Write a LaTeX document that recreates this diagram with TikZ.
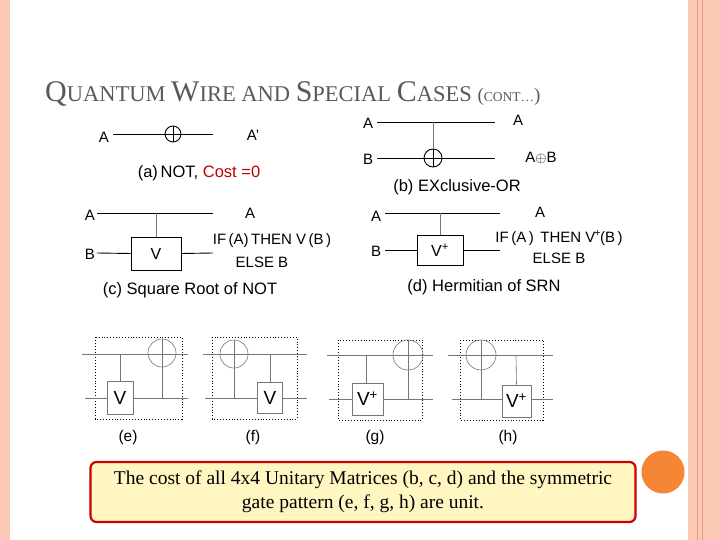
\documentclass[tikz,border=0pt]{standalone}
\usepackage{fontspec}
\setmainfont{Liberation Serif}
\newfontfamily\lsans{Liberation Sans}
\definecolor{peach}{HTML}{FAC8B4}
\definecolor{peachd}{HTML}{E89A7C}
\definecolor{gline}{HTML}{777777}
\definecolor{boxfill}{HTML}{FFF6C2}
\definecolor{orng}{HTML}{F58634}
\begin{document}
\begin{tikzpicture}[x=1pt,y=-1pt,
  lbl/.style={font=\lsans\fontsize{15}{17}\selectfont,inner sep=0pt},
  captxt/.style={font=\lsans\fontsize{16.5}{18}\selectfont,inner sep=0pt},
  scap/.style={font=\lsans\fontsize{15.5}{16}\selectfont,inner sep=0pt},
  wire/.style={line width=0.9pt},
  ctl/.style={draw=gline,line width=0.6pt},
  gbox/.style={draw,line width=0.9pt,fill=white,font=\lsans\fontsize{16}{17}\selectfont,inner sep=0pt},
  thinw/.style={draw=gline,line width=0.8pt},
  dotbox/.style={dotted,line width=0.9pt},
  sbox/.style={draw=gline,line width=0.8pt,fill=white,font=\lsans\fontsize{19}{20}\selectfont,inner sep=0pt}]
\useasboundingbox (0,0) rectangle (720,540);
\fill[white] (0,0) rectangle (720,540);
% decorations
\fill[peach] (0,0) rectangle (10,540);
\fill[peach] (688,0) rectangle (720,540);
\draw[peachd,line width=0.6pt] (697,0) -- (697,540);
\draw[peachd,line width=0.6pt] (702,0) -- (702,540);
\node[fill=orng,circle,minimum size=43pt,inner sep=0pt] (orc) at (663,472) {};
% title
\node[anchor=base west,text=black!65,inner sep=0pt] (title) at (45,102)
 {\fontsize{30}{32}\selectfont Q\fontsize{22.5}{24}\selectfont UANTUM \fontsize{30}{32}\selectfont W\fontsize{22.5}{24}\selectfont IRE AND \fontsize{30}{32}\selectfont S\fontsize{22.5}{24}\selectfont PECIAL \fontsize{30}{32}\selectfont C\fontsize{22.5}{24}\selectfont ASES \fontsize{19}{20}\selectfont(\fontsize{13.5}{14}\selectfont CONT\ldots\fontsize{19}{20}\selectfont)};
% (a)
\node[lbl] (aA) at (104,137) {A};
\coordinate (aL) at (113,134); \coordinate (aR) at (213,134);
\draw[wire] (aL) -- (aR);
\node[draw,circle,line width=0.9pt,minimum size=16pt,inner sep=0pt] (ax) at (173,134) {};
\draw[wire] (ax.north) -- (ax.south);
\node[lbl] (aA2) at (253,135) {A’};
\node[captxt] (acap) at (199,173) {(a)\,NOT, \textcolor{red!75!black}{Cost =0}};
% (b)
\node[lbl] (bA) at (368,123) {A};
\node[lbl] (bB) at (368,159) {B};
\coordinate (bL1) at (377,122); \coordinate (bR1) at (495,122);
\coordinate (bL2) at (377,158); \coordinate (bR2) at (495,158);
\draw[wire] (bL1) -- (bR1); \draw[wire] (bL2) -- (bR2);
\node[draw,circle,line width=0.9pt,minimum size=18pt,inner sep=0pt] (bx) at (433,158) {};
\draw[wire] (bx.north) -- (bx.south);
\coordinate (bc) at (433,122);
\draw[ctl] (bc) -- (bx.north);
\node[lbl] (bo1) at (518,120) {A};
\node[lbl] (bo2) at (541,158) {A\raisebox{-0.5pt}{\Large$\oplus$}B};
\node[captxt] (bcap) at (457,187) {(b) EXclusive-OR};
% (c)
\node[lbl] (cA) at (90,215) {A};
\node[lbl] (cB) at (90,254) {B};
\coordinate (cL1) at (97,213); \coordinate (cR1) at (213,213);
\draw[wire] (cL1) -- (cR1);
\node[gbox,minimum width=50pt,minimum height=33pt] (cV) at (156,253.5) {V};
\coordinate (cL2) at (97,253); \coordinate (cR2) at (213,253);
\draw[wire] (cL2) -- (cV.west); \draw[wire] (cV.east) -- (cR2);
\coordinate (cc) at (156,213);
\draw[ctl] (cc) -- (cV.north);
\node[lbl] (cout) at (250,213) {A};
\node[lbl] (cif) at (272,241) {IF\,(A)\,THEN V\,(B\,)};
\node[lbl] (celse) at (262,262) {ELSE B};
\node[captxt] (ccap) at (190,290) {(c) Square Root of NOT};
% (d)
\node[lbl] (dA) at (376,216) {A};
\node[lbl] (dB) at (376,251) {B};
\coordinate (dL1) at (385,213); \coordinate (dR1) at (500,213);
\draw[wire] (dL1) -- (dR1);
\node[gbox,minimum width=46pt,minimum height=30pt] (dV) at (440,250) {V\textsuperscript{+}};
\coordinate (dL2) at (385,250); \coordinate (dR2) at (500,250);
\draw[wire] (dL2) -- (dV.west); \draw[wire] (dV.east) -- (dR2);
\coordinate (dc) at (440,213);
\draw[ctl] (dc) -- (dV.north);
\node[lbl] (dout) at (540,212) {A};
\node[lbl] (dif) at (559,238) {IF\,(A\,)\, THEN V\kern-1pt\textsuperscript{+}\kern-1pt(B\,)};
\node[lbl] (delse) at (559,258) {ELSE B};
\node[captxt] (dcap) at (484,287) {(d) Hermitian of SRN};
% (e)
\draw[dotbox] (95,337) rectangle (182,419);
\coordinate (eL1) at (82,354); \coordinate (eR1) at (188,354);
\coordinate (eL2) at (85,398); \coordinate (eR2) at (188,398);
\draw[thinw] (eL1) -- (eR1);
\node[sbox,minimum width=26pt,minimum height=33pt] (eV) at (120,398) {V};
\draw[thinw] (eL2) -- (eV.west); \draw[thinw] (eV.east) -- (eR2);
\coordinate (ec) at (120,354); \draw[ctl] (ec) -- (eV.north);
\node[draw=gline,circle,line width=0.6pt,minimum size=28pt,inner sep=0pt] (ex) at (162,353) {};
\coordinate (eb) at (162,398);
\draw[ctl] (ex.north) -- (eb);
\node[scap] (ecap) at (128,437) {(e)};
% (f)
\draw[dotbox] (212,337) rectangle (297,419);
\coordinate (fL1) at (203,354); \coordinate (fR1) at (307,354);
\coordinate (fL2) at (205,398); \coordinate (fR2) at (307,398);
\draw[thinw] (fL1) -- (fR1);
\node[sbox,minimum width=25pt,minimum height=31pt] (fV) at (270,398) {V};
\draw[thinw] (fL2) -- (fV.west); \draw[thinw] (fV.east) -- (fR2);
\coordinate (fc) at (270,354); \draw[ctl] (fc) -- (fV.north);
\node[draw=gline,circle,line width=0.6pt,minimum size=28pt,inner sep=0pt] (fx) at (234,354) {};
\coordinate (fb) at (234,398);
\draw[ctl] (fx.north) -- (fb);
\node[scap] (fcap) at (253,437) {(f)};
% (g)
\draw[dotbox] (338,340) rectangle (422,420);
\coordinate (gL1) at (327,355); \coordinate (gR1) at (433,355);
\coordinate (gL2) at (329,399); \coordinate (gR2) at (433,399);
\draw[thinw] (gL1) -- (gR1);
\node[sbox,minimum width=31pt,minimum height=32pt] (gV) at (367.5,399) {V\textsuperscript{+}};
\draw[thinw] (gL2) -- (gV.west); \draw[thinw] (gV.east) -- (gR2);
\coordinate (gc) at (366,355); \draw[ctl] (gc) -- (gc|-gV.north);
\node[draw=gline,circle,line width=0.6pt,minimum size=30pt,inner sep=0pt] (gx) at (408,355) {};
\coordinate (gb) at (408,399);
\draw[ctl] (gx.north) -- (gb);
\node[scap] (gcap) at (375,437) {(g)};
% (h)
\draw[dotbox] (460,340) rectangle (543,420);
\coordinate (hL1) at (448,355); \coordinate (hR1) at (553,355);
\coordinate (hL2) at (452,399); \coordinate (hR2) at (553,399);
\draw[thinw] (hL1) -- (hR1);
\node[sbox,minimum width=29pt,minimum height=32pt] (hV) at (516.5,401) {V\textsuperscript{+}};
\draw[thinw] (hL2) -- (hL2-|hV.west); \draw[thinw] (hR2-|hV.east) -- (hR2);
\coordinate (hc) at (516,355); \draw[ctl] (hc) -- (hV.north);
\node[draw=gline,circle,line width=0.6pt,minimum size=30pt,inner sep=0pt] (hx) at (481,355) {};
\coordinate (hb) at (481,399);
\draw[ctl] (hx.north) -- (hb);
\node[scap] (hcap) at (508,437) {(h)};
% bottom box
\node[draw=red!80!black,line width=2.2pt,fill=boxfill,rounded corners=6pt,minimum width=545pt,minimum height=60pt,inner sep=0pt,align=center,font=\fontsize{19.5}{24}\selectfont] (note) at (363,492)
 {The cost of all 4x4 Unitary Matrices (b, c, d) and the symmetric\\ gate pattern (e, f, g, h) are unit.};
\end{tikzpicture}
\end{document}
